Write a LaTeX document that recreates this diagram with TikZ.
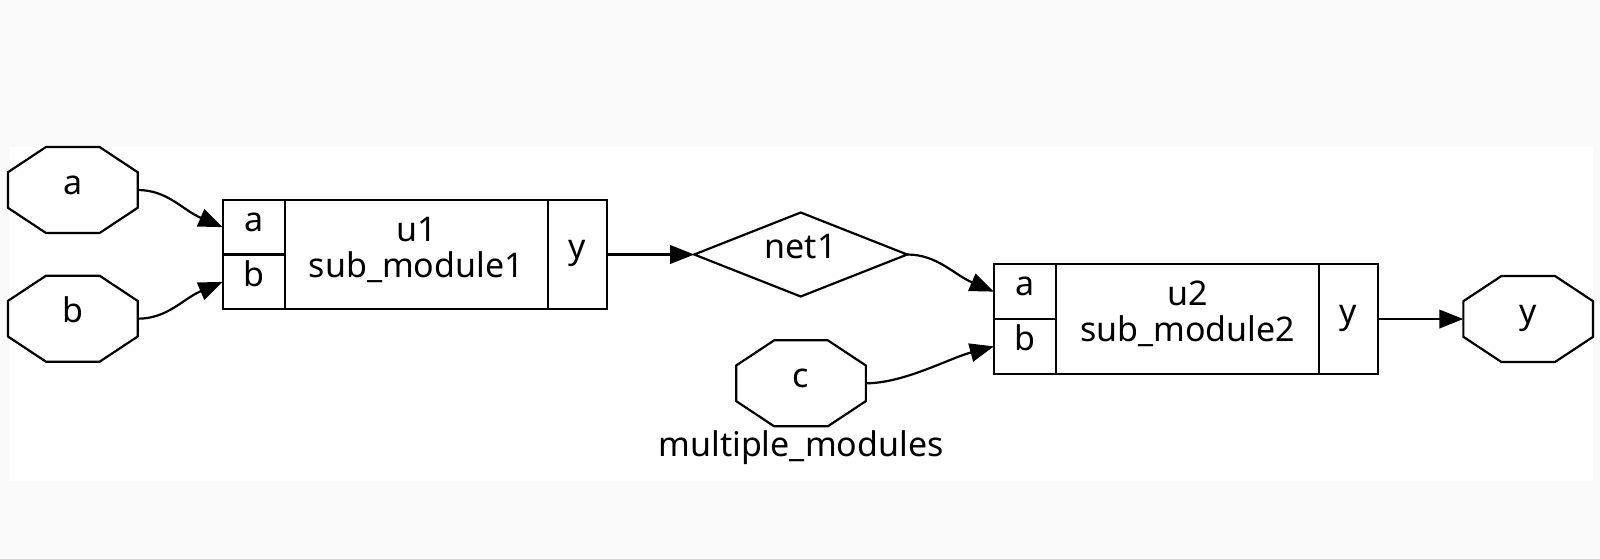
\documentclass[tikz,border=0pt]{standalone}
\usepackage{fontspec}
\setmainfont{Noto Sans}
\usetikzlibrary{arrows.meta,shapes.geometric,positioning}
\definecolor{pagebg}{HTML}{FAFAFA}

\tikzset{
  lbl/.style={font=\fontsize{34}{40}\selectfont, text height=15pt, text depth=6.5pt},
  modtext/.style={font=\fontsize{34}{40}\selectfont, anchor=base, inner sep=0pt},
  cell/.style={draw, line width=2.2pt, inner sep=0pt, outer sep=0pt, lbl},
  ioport/.style={minimum width=129.7pt, minimum height=86pt, inner sep=0pt, outer sep=0pt, lbl},
  netnode/.style={diamond, aspect=2.5, draw, line width=2.2pt, minimum width=213pt, minimum height=84pt, inner sep=0pt, outer sep=0pt, lbl},
  wire/.style={line width=2.2pt, -{Triangle[length=24pt,width=18.5pt]}},
}

\begin{document}
\begin{tikzpicture}[x=1pt,y=-1pt]
     \useasboundingbox[fill=pagebg] (0,0) rectangle (1600,558);
     \fill[white] (9,147) rectangle (1593,481);

     % ports of the top module
     \node[ioport] (ina) at (72.8,190) {a};
     \node[ioport] (inb) at (72.8,318.7) {b};
     \node[ioport] (inc) at (801,383.3) {c};
     \node[ioport] (outy) at (1528.2,319) {y};
     \foreach \n in {ina,inb,inc,outy} {
      \draw[line width=2.2pt] ([xshift=-26.8pt]\n.north) -- ++(53.6,0) -- ++(38.05,25.2)
        -- ++(0,35.6) -- ++(-38.05,25.2) -- ++(-53.6,0) -- ++(-38.05,-25.2)
        -- ++(0,-35.6) -- cycle;
     }

     % instance u1
     \node[cell, minimum width=262.7pt, minimum height=109.5pt] (u1m) at (416.3,254.5) {};
     \node[cell, minimum width=62.3pt, minimum height=54.75pt, anchor=north east] (u1a) at (u1m.north west) {a};
     \node[cell, minimum width=62.3pt, minimum height=54.75pt, anchor=south east] (u1b) at (u1m.south west) {b};
     \node[cell, minimum width=59.3pt, minimum height=109.5pt, anchor=west] (u1y) at (u1m.east) {y};
     \node[modtext] (u1inst) at ([yshift=13.5pt]u1m.center) {u1};
     \node[modtext] (u1kind) at ([yshift=-22.7pt]u1m.center) {sub\_module1};

     % instance u2
     \node[cell, minimum width=262.7pt, minimum height=109.5pt] (u2m) at (1187.5,319) {};
     \node[cell, minimum width=62.3pt, minimum height=54.75pt, anchor=north east] (u2a) at (u2m.north west) {a};
     \node[cell, minimum width=62.3pt, minimum height=54.75pt, anchor=south east] (u2b) at (u2m.south west) {b};
     \node[cell, minimum width=59.3pt, minimum height=109.5pt, anchor=west] (u2y) at (u2m.east) {y};
     \node[modtext] (u2inst) at ([yshift=13.5pt]u2m.center) {u2};
     \node[modtext] (u2kind) at ([yshift=-22.7pt]u2m.center) {sub\_module2};

     \node[netnode] (net1) at (800.7,254.5) {net1};
     \node[modtext] (title) at (801,456.7) {multiple\_modules};

     % wires
     \draw[wire] (ina.east) .. controls +(30,0) and +(-40,-17) .. (u1a.west);
     \draw[wire] (inb.east) .. controls +(30,0) and +(-40,17) .. (u1b.west);
     \draw[wire] (u1y) -- (net1);
     \draw[wire] (net1.east) .. controls +(30,0) and +(-40,-17) .. (u2a.west);
     \draw[wire] (inc.east) .. controls +(38,0) and +(-45,12) .. (u2b.west);
     \draw[wire] (u2y) -- (outy);
    \end{tikzpicture}
\end{document}
